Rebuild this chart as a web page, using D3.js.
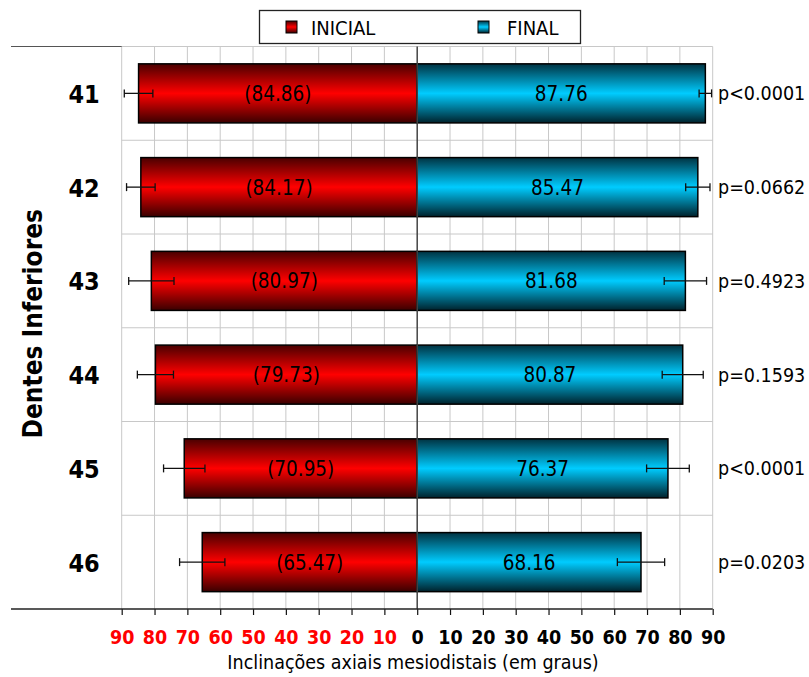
<!DOCTYPE html>
<html>
<head>
<meta charset="utf-8">
<script src="https://cdn.jsdelivr.net/npm/d3@7"></script>
<style>
  html, body { margin: 0; padding: 0; background: #fff; }
  svg { display: block; }
  text { font-family: "DejaVu Sans Condensed", "DejaVu Sans", sans-serif; }
</style>
</head>
<body>
<svg id="chart" width="809" height="677"></svg>
<script>
// Teeth (lower arch) and mean mesiodistal axial inclinations, in degrees
const teeth = ["41", "42", "43", "44", "45", "46"];
const inicial = [84.86, 84.17, 80.97, 79.73, 70.95, 65.47];
const inicialSD = [4.35, 4.35, 6.9, 5.5, 6.3, 6.9];
const final = [87.76, 85.47, 81.68, 80.87, 76.37, 68.16];
const finalSD = [1.9, 3.7, 6.45, 6.25, 6.5, 7.2];
const pValues = ["p<0.0001", "p=0.0662", "p=0.4923", "p=0.1593", "p<0.0001", "p=0.0203"];
const tickValues = [-90, -80, -70, -60, -50, -40, -30, -20, -10, 0, 10, 20, 30, 40, 50, 60, 70, 80, 90];
const seriesNames = ["INICIAL", "FINAL"];

const svg = d3.select("#chart");

const x = d3.scaleLinear().domain([-90, 90]).range([121.7, 712.7]);
const y = d3.scaleBand().domain(teeth).range([46.5, 609])
  .paddingInner(0.37).paddingOuter(0.185);
const step = y.step();
const plotTop = 46.5, plotBottom = 609;

// Gradients for the bars (dark edges, bright middle)
const defs = svg.append("defs");
function grad(id, edgeTop, mid, edgeBottom) {
  const g = defs.append("linearGradient").attr("id", id)
    .attr("x1", 0).attr("y1", 0).attr("x2", 0).attr("y2", 1);
  g.append("stop").attr("offset", "0%").attr("stop-color", edgeTop);
  g.append("stop").attr("offset", "50%").attr("stop-color", mid);
  g.append("stop").attr("offset", "100%").attr("stop-color", edgeBottom);
}
grad("gRed", "#4a0000", "#ff0000", "#3a0000");
grad("gBlue", "#003342", "#00ccff", "#00222c");

// Grid
const grid = svg.append("g");
grid.selectAll("line.v").data(tickValues.filter(d => d !== 0)).join("line")
  .attr("x1", d => x(d)).attr("x2", d => x(d))
  .attr("y1", plotTop).attr("y2", plotBottom)
  .attr("stroke", "#c8c8c8").attr("stroke-width", 1);
grid.selectAll("line.h").data(d3.range(teeth.length)).join("line")
  .attr("x1", x(-90)).attr("x2", x(90))
  .attr("y1", i => plotTop + i * step).attr("y2", i => plotTop + i * step)
  .attr("stroke", "#c8c8c8").attr("stroke-width", 1);
// frame line reaching out to the category labels
svg.append("line").attr("x1", 11).attr("x2", x(-90))
  .attr("y1", plotTop).attr("y2", plotTop)
  .attr("stroke", "#555").attr("stroke-width", 1.2);

// Bars
const rows = teeth.map((t, i) => ({
  t, ini: inicial[i], iniSD: inicialSD[i], fin: final[i], finSD: finalSD[i], p: pValues[i]
}));

const barG = svg.append("g");
barG.selectAll("rect.ini").data(rows).join("rect")
  .attr("x", d => x(-d.ini)).attr("y", d => y(d.t))
  .attr("width", d => x(0) - x(-d.ini)).attr("height", y.bandwidth())
  .attr("fill", "url(#gRed)").attr("stroke", "#000").attr("stroke-width", 1.5);
barG.selectAll("rect.fin").data(rows).join("rect")
  .attr("x", x(0)).attr("y", d => y(d.t))
  .attr("width", d => x(d.fin) - x(0)).attr("height", y.bandwidth())
  .attr("fill", "url(#gBlue)").attr("stroke", "#000").attr("stroke-width", 1.5);

// Zero line
svg.append("line").attr("x1", x(0)).attr("x2", x(0))
  .attr("y1", plotTop).attr("y2", plotBottom)
  .attr("stroke", "#444").attr("stroke-width", 1.5);

// Error bars
function errorBars(center, sd) {
  const g = svg.append("g").attr("stroke", "#111").attr("stroke-width", 1.3);
  const cy = d => y(d.t) + y.bandwidth() / 2;
  g.selectAll("line.m").data(rows).join("line")
    .attr("x1", d => x(center(d) - sd(d))).attr("x2", d => x(center(d) + sd(d)))
    .attr("y1", cy).attr("y2", cy);
  [-1, 1].forEach(s => {
    g.selectAll("line.c" + (s > 0 ? "r" : "l")).data(rows).join("line")
      .attr("class", "c" + (s > 0 ? "r" : "l"))
      .attr("x1", d => x(center(d) + s * sd(d))).attr("x2", d => x(center(d) + s * sd(d)))
      .attr("y1", d => cy(d) - 4).attr("y2", d => cy(d) + 4);
  });
}
errorBars(d => -d.ini, d => d.iniSD);
errorBars(d => d.fin, d => d.finSD);

// Value labels
const lab = svg.append("g").attr("font-size", 20.5).attr("fill", "#000")
  .attr("text-anchor", "middle");
lab.selectAll("text.ini").data(rows).join("text")
  .attr("class", "ini")
  .attr("x", d => (x(-d.ini) + x(0)) / 2)
  .attr("y", d => y(d.t) + y.bandwidth() / 2).attr("dy", "0.36em")
  .text(d => "(" + d.ini.toFixed(2) + ")");
lab.selectAll("text.fin").data(rows).join("text")
  .attr("class", "fin")
  .attr("x", d => (x(d.fin) + x(0)) / 2)
  .attr("y", d => y(d.t) + y.bandwidth() / 2).attr("dy", "0.36em")
  .text(d => d.fin.toFixed(2));

// p-values on the right
svg.append("g").selectAll("text").data(rows).join("text")
  .attr("x", 718).attr("y", d => y(d.t) + y.bandwidth() / 2).attr("dy", "0.36em")
  .attr("font-size", 19.5).attr("fill", "#000")
  .text(d => d.p);

// X axis
const xAxis = svg.append("g").attr("transform", `translate(0,${plotBottom})`)
  .call(d3.axisBottom(x).tickValues(tickValues).tickSize(6).tickPadding(15)
    .tickFormat(d => Math.abs(d)));
xAxis.select(".domain").remove();
xAxis.selectAll(".tick line").attr("stroke", "#111").attr("stroke-width", 1.2);
xAxis.selectAll(".tick text")
  .attr("font-family", "'DejaVu Sans Condensed', 'DejaVu Sans', sans-serif")
  .attr("font-size", 19.5).attr("font-weight", "bold")
  .attr("fill", d => d < 0 ? "#ff0000" : "#000");
svg.append("line").attr("x1", 11).attr("x2", x(90))
  .attr("y1", plotBottom).attr("y2", plotBottom)
  .attr("stroke", "#222").attr("stroke-width", 1.3);

svg.append("text").attr("x", 413).attr("y", 669)
  .attr("text-anchor", "middle").attr("font-size", 19.5).attr("fill", "#000")
  .text("Inclinações axiais mesiodistais (em graus)");

// Y axis (tooth numbers)
const yAxis = svg.append("g").attr("transform", `translate(${x(-90)},0)`)
  .call(d3.axisLeft(y).tickSize(0).tickPadding(22));
yAxis.select(".domain").remove();
yAxis.selectAll(".tick text")
  .attr("font-family", "'DejaVu Sans Condensed', 'DejaVu Sans', sans-serif")
  .attr("font-size", 25).attr("font-weight", "bold").attr("fill", "#000")
  .attr("dy", "0.38em");

svg.append("text")
  .attr("transform", `translate(42,${(plotTop + plotBottom) / 2 - 4}) rotate(-90)`)
  .attr("text-anchor", "middle").attr("font-size", 26).attr("font-weight", "bold")
  .attr("fill", "#000")
  .text("Dentes Inferiores");

// Legend
const legend = svg.append("g");
legend.append("rect").attr("x", 259.5).attr("y", 10.5).attr("width", 321).attr("height", 33)
  .attr("fill", "#fff").attr("stroke", "#222").attr("stroke-width", 1.3);
const legX = [286, 478], legTextX = [311, 507];
const legFill = ["url(#gRed)", "url(#gBlue)"];
seriesNames.forEach((name, i) => {
  legend.append("rect").attr("x", legX[i]).attr("y", 21).attr("width", 11).attr("height", 12)
    .attr("fill", legFill[i]).attr("stroke", "#000").attr("stroke-width", 1);
  legend.append("text").attr("x", legTextX[i]).attr("y", 34.5)
    .attr("font-size", 20).attr("fill", "#000").text(name);
});
</script>
</body>
</html>
